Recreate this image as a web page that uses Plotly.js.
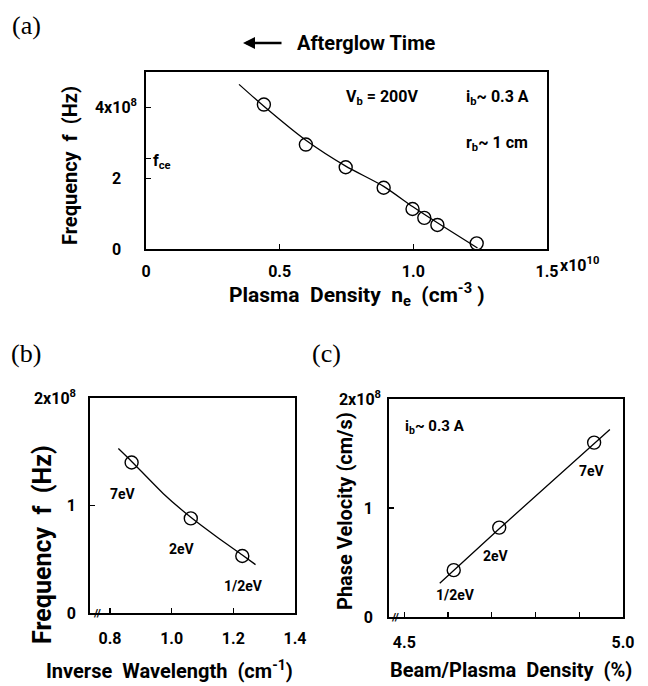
<!DOCTYPE html>
<html><head><meta charset="utf-8">
<script src="https://cdn.plot.ly/plotly-3.0.1.min.js"></script>
<style>html,body{margin:0;padding:0;background:#fff}</style>
</head><body><div id="chart" style="width:648px;height:686px"></div>
<script>
// ---------- Panel (a): frequency vs plasma density (x in 1e10 cm^-3, y in 1e8 Hz)
const densityA = [0.441, 0.598, 0.747, 0.889, 0.997, 1.041, 1.09, 1.237];
const freqA    = [4.08, 2.95, 2.31, 1.73, 1.13, 0.88, 0.68, 0.16];
const fitDensityA = [0.348, 0.441, 0.598, 0.747, 0.889, 0.997, 1.09, 1.24];
const fitFreqA    = [4.65, 4.03, 3.07, 2.34, 1.77, 1.20, 0.74, 0.03];
const xTicksA = [0, 0.5, 1.0, 1.5];
const xTickTextA = ['0', '0.5', '1.0', '1.5'];
const yTicksA = [0, 2, 2.55, 4];
const yTickTextA = ['0\u00A0\u00A0\u00A0\u00A0', '2\u00A0\u00A0\u00A0\u00A0', '', '4x10<sup>8</sup>'];
const fceA = 2.55;

// ---------- Panel (b): frequency vs inverse wavelength (y in 1e8 Hz)
const invWavelengthB = [0.870, 1.062, 1.229];
const freqB          = [1.40, 0.88, 0.53];
const fitInvWavelengthB = [0.827, 0.870, 0.973, 1.062, 1.15, 1.229, 1.272];
const fitFreqB          = [1.53, 1.41, 1.11, 0.89, 0.70, 0.54, 0.45];
const labelsB = ['7eV', '2eV', '1/2eV'];
const labelXB = [0.843, 1.032, 1.232];
const labelYB = [1.11, 0.60, 0.25];
const xTicksB = [0.8, 1.0, 1.2, 1.4];
const xTickTextB = ['0.8', '1.0', '1.2', '1.4'];
const yTicksB = [0, 1, 2];
const yTickTextB = ['0', '1', '2x10<sup>8</sup>'];

// ---------- Panel (c): phase velocity vs beam/plasma density (y in 1e8 cm/s)
const ratioC    = [4.613, 4.717, 4.934];
const velocityC = [0.43, 0.82, 1.60];
const fitRatioC    = [4.581, 4.717, 4.970];
const fitVelocityC = [0.31, 0.81, 1.72];
const labelsC = ['1/2eV', '2eV', '7eV'];
const labelXC = [4.617, 4.71, 4.93];
const labelYC = [0.20, 0.56, 1.34];
const xTicksC = [4.5, 4.6, 4.7, 4.8, 4.9, 5.0];
const xTickTextC = ['4.5', '', '', '', '', '5.0'];
const yTicksC = [0, 1, 2];
const yTickTextC = ['0\u00A0\u00A0', '1\u00A0\u00A0', '2x10<sup>8</sup>'];

const FONT = 'Roboto, Liberation Sans, sans-serif';
const SERIF = 'Liberation Serif, DejaVu Serif, serif';

const lineStyle = {color: 'black', width: 1.3, shape: 'spline', smoothing: 0.6};
const markerStyle = {symbol: 'circle-open', size: 13, color: 'black', line: {color: 'black', width: 1.4}};

const traces = [
  {x: fitDensityA, y: fitFreqA, xaxis: 'x', yaxis: 'y', mode: 'lines', line: lineStyle, hoverinfo: 'skip'},
  {x: densityA, y: freqA, xaxis: 'x', yaxis: 'y', mode: 'markers', marker: markerStyle},
  {x: fitInvWavelengthB, y: fitFreqB, xaxis: 'x2', yaxis: 'y2', mode: 'lines', line: lineStyle, hoverinfo: 'skip'},
  {x: invWavelengthB, y: freqB, xaxis: 'x2', yaxis: 'y2', mode: 'markers', marker: markerStyle},
  {x: fitRatioC, y: fitVelocityC, xaxis: 'x3', yaxis: 'y3', mode: 'lines', line: lineStyle, hoverinfo: 'skip'},
  {x: ratioC, y: velocityC, xaxis: 'x3', yaxis: 'y3', mode: 'markers', marker: markerStyle}
];

function axis(extra) {
  return Object.assign({
    showline: true, mirror: true, linecolor: 'black', linewidth: 1.8,
    ticks: 'inside', ticklen: 5, tickwidth: 1.4, tickcolor: 'black',
    showgrid: false, zeroline: false, tickmode: 'array',
    tickfont: {family: FONT, size: 16, color: 'black', weight: 'bold'}
  }, extra);
}

const W = 648, H = 686;
const px = v => v / W, py = v => 1 - v / H;

const annotations = [];
function txt(text, x, y, opts) {
  annotations.push(Object.assign({
    text: text, x: x, y: y, showarrow: false, xanchor: 'center', yanchor: 'middle',
    font: {family: FONT, size: 16, color: 'black', weight: 'bold'}
  }, opts));
}
const bold = s => ({family: FONT, size: s, color: 'black', weight: 'bold'});
const serif = {family: SERIF, size: 26, color: 'black'};
const P = {xref: 'paper', yref: 'paper'};
// panel letters
txt('(a)', px(10), py(25), Object.assign({xanchor: 'left', font: serif}, P));
txt('(b)', px(9), py(353), Object.assign({xanchor: 'left', font: serif}, P));
txt('(c)', px(310), py(353), Object.assign({xanchor: 'left', font: serif}, P));
// afterglow arrow + text
annotations.push({xref: 'paper', yref: 'paper', x: px(243), y: py(43), ax: 40, ay: 0, text: '',
  showarrow: true, arrowhead: 2, arrowsize: 1, arrowwidth: 2.4, arrowcolor: 'black'});
txt('Afterglow Time', px(295), py(43), Object.assign({xanchor: 'left', font: bold(20)}, P));
// axis titles
txt('Frequency  f  (Hz)', px(70), py(166), Object.assign({textangle: -90, font: bold(20)}, P));
txt('Plasma  Density  n<sub>e</sub>  (cm<sup>-3</sup> )', px(357), py(294), Object.assign({font: bold(21)}, P));
txt('x10<sup>10</sup>', px(558), py(265), Object.assign({xanchor: 'left', font: bold(16)}, P));
txt('Frequency  f  (Hz)', px(42), py(545), Object.assign({textangle: -90, font: bold(25)}, P));
txt('Inverse  Wavelength  (cm<sup>-1</sup>)', px(169), py(670), Object.assign({font: bold(20)}, P));
txt('Phase Velocity (cm/s)', px(345), py(511), Object.assign({textangle: -90, font: bold(20)}, P));
txt('Beam/Plasma  Density  (%)', px(511), py(670), Object.assign({font: bold(20)}, P));
// panel (a) inner text
txt('V<sub>b</sub> = 200V', 0.742, 4.28, {xref: 'x', yref: 'y', xanchor: 'left'});
txt('i<sub>b</sub>~ 0.3 A', 1.19, 4.28, {xref: 'x', yref: 'y', xanchor: 'left'});
txt('r<sub>b</sub>~ 1 cm', 1.19, 2.97, {xref: 'x', yref: 'y', xanchor: 'left'});
txt('f<sub>ce</sub>', 0, fceA, {xref: 'x', yref: 'y', xanchor: 'left', xshift: 5, yshift: -3});
// panel (b) labels
labelsB.forEach((t, i) => txt(t, labelXB[i], labelYB[i], {xref: 'x2', yref: 'y2', font: bold(14)}));
txt('//', 0.757, 0, {xref: 'x2', yref: 'y2', font: bold(11)});
// panel (c) labels
labelsC.forEach((t, i) => txt(t, labelXC[i], labelYC[i], {xref: 'x3', yref: 'y3', font: bold(14)}));
txt('i<sub>b</sub>~ 0.3 A', 4.497, 1.74, {xref: 'x3', yref: 'y3', xanchor: 'left', font: bold(15)});
txt('//', 4.479, 0, {xref: 'x3', yref: 'y3', font: bold(11)});

const layout = {
  width: W, height: H, margin: {l: 0, r: 0, t: 0, b: 0},
  paper_bgcolor: 'white', plot_bgcolor: 'white', showlegend: false,
  font: {family: FONT, color: 'black'},
  xaxis: axis({domain: [px(146), px(547)], range: [0, 1.5], tickvals: xTicksA, ticktext: xTickTextA, anchor: 'y', ticklabelstandoff: 7}),
  yaxis: axis({domain: [py(249), py(72)], range: [0, 5], tickvals: yTicksA, ticktext: yTickTextA, anchor: 'x', ticklabelstandoff: 4}),
  xaxis2: axis({domain: [px(90), px(295)], range: [0.735, 1.4], tickvals: xTicksB, ticktext: xTickTextB, anchor: 'y2', ticklabelstandoff: 10}),
  yaxis2: axis({domain: [py(613), py(398)], range: [0, 2], tickvals: yTicksB, ticktext: yTickTextB, anchor: 'x2', ticklabelstandoff: 9}),
  xaxis3: axis({domain: [px(389), px(623)], range: [4.465, 5.0], tickvals: xTicksC, ticktext: xTickTextC, anchor: 'y3', ticklabelstandoff: 10}),
  yaxis3: axis({domain: [py(617), py(399)], range: [0, 2], tickvals: yTicksC, ticktext: yTickTextC, anchor: 'x3', ticklabelstandoff: 3}),
  annotations: annotations
};

Plotly.newPlot('chart', traces, layout, {displayModeBar: false, staticPlot: true});
</script></body></html>
